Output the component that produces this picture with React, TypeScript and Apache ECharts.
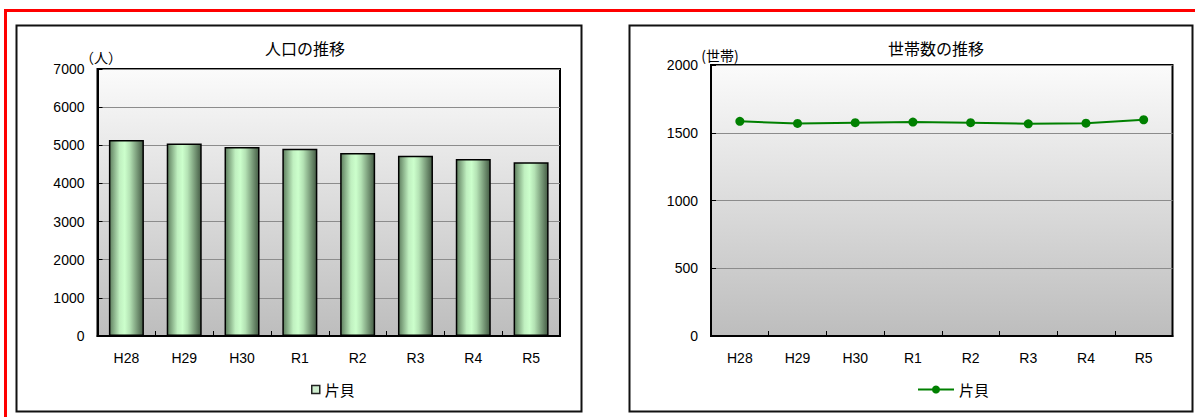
import React, { useEffect, useRef } from 'react';
import * as echarts from 'echarts';

const categories = ['H28', 'H29', 'H30', 'R1', 'R2', 'R3', 'R4', 'R5'];
const populationValues = [5140, 5044, 4956, 4912, 4800, 4726, 4640, 4552];
const householdValues = [1584, 1569, 1574, 1579, 1574, 1566, 1571, 1596];
const seriesName = '片貝';
const popTitle = '人口の推移';
const hhTitle = '世帯数の推移';
const popUnit = '（人）';
const hhUnit = '(世帯)';
const popAxis = { min: 0, max: 7000, interval: 1000 };
const hhAxis = { min: 0, max: 2000, interval: 500 };

const JP = '"Noto Sans CJK JP", "Noto Sans", sans-serif';
const NUM = '"Liberation Sans", Arial, sans-serif';

function plotBg() {
  return new echarts.graphic.LinearGradient(0, 0, 0, 1, [
    { offset: 0, color: '#fbfbfb' },
    { offset: 1, color: '#bdbdbd' },
  ]);
}

function xAxisCommon() {
  return {
    type: 'category',
    data: categories,
    boundaryGap: true,
    axisLine: { show: true, lineStyle: { color: '#000', width: 2 } },
    axisTick: { show: true, inside: true, length: 5, alignWithLabel: false, lineStyle: { color: '#000' } },
    axisLabel: { color: '#000', fontSize: 14, fontFamily: NUM, margin: 15 },
    splitLine: { show: false },
  };
}

function yAxisCommon(ax: { min: number; max: number; interval: number }) {
  return {
    type: 'value',
    min: ax.min,
    max: ax.max,
    interval: ax.interval,
    axisLine: { show: true, lineStyle: { color: '#000', width: 2 } },
    axisTick: { show: true, inside: true, length: 5, lineStyle: { color: '#000' } },
    axisLabel: { color: '#000', fontSize: 14, fontFamily: NUM, margin: 13, formatter: (v: number) => String(v) },
    splitLine: { show: true, lineStyle: { color: '#8c8c8c', width: 1 } },
  };
}

function popOption() {
  return {
    animation: false,
    grid: {
      left: 97.5, top: 69, width: 462.5, height: 267,
      show: true, backgroundColor: plotBg(), borderColor: '#000', borderWidth: 2,
    },
    xAxis: xAxisCommon(),
    yAxis: yAxisCommon(popAxis),
    legend: {
      left: 306, top: 377,
      itemWidth: 8, itemHeight: 8,
      data: [{ name: seriesName, icon: 'rect' }],
      itemStyle: { color: '#cfeecf', borderColor: '#222', borderWidth: 1.5 },
      textStyle: { fontFamily: JP, fontSize: 15, color: '#000' },
    },
    graphic: [
      { type: 'rect', shape: { x: 16.5, y: 25.5, width: 565, height: 386 }, style: { fill: '#fff', stroke: '#111', lineWidth: 2 }, z: -10 },
      { type: 'text', x: 305, y: 48, style: { text: popTitle, font: `16px ${JP}`, fill: '#000', textAlign: 'center', textVerticalAlign: 'middle' } },
      { type: 'text', x: 101, y: 57, style: { text: popUnit, font: `14px ${JP}`, fill: '#000', textAlign: 'center', textVerticalAlign: 'middle' } },
    ],
    series: [
      {
        name: seriesName,
        type: 'bar',
        data: populationValues,
        barWidth: 35,
        itemStyle: {
          color: new echarts.graphic.LinearGradient(0, 0, 1, 0, [
            { offset: 0, color: '#5f7f5f' },
            { offset: 0.3, color: '#c0f0c0' },
            { offset: 0.45, color: '#ccffcc' },
            { offset: 0.6, color: '#b4e2b4' },
            { offset: 1, color: '#455c45' },
          ]),
          borderColor: '#000',
          borderWidth: 1.5,
        },
      },
    ],
  };
}

function hhOption() {
  return {
    animation: false,
    grid: {
      left: 114, top: 65, width: 461.5, height: 271,
      show: true, backgroundColor: plotBg(), borderColor: '#000', borderWidth: 2,
    },
    xAxis: xAxisCommon(),
    yAxis: yAxisCommon(hhAxis),
    legend: {
      left: 315, top: 377,
      itemWidth: 36, itemHeight: 10,
      data: [seriesName],
      textStyle: { fontFamily: JP, fontSize: 15, color: '#000' },
    },
    graphic: [
      { type: 'rect', shape: { x: 32.5, y: 25.5, width: 563, height: 386 }, style: { fill: '#fff', stroke: '#111', lineWidth: 2 }, z: -10 },
      { type: 'text', x: 339, y: 48, style: { text: hhTitle, font: `16px ${JP}`, fill: '#000', textAlign: 'center', textVerticalAlign: 'middle' } },
      { type: 'text', x: 123, y: 55, style: { text: hhUnit, font: `14px ${JP}`, fill: '#000', textAlign: 'center', textVerticalAlign: 'middle' } },
    ],
    series: [
      {
        name: seriesName,
        type: 'line',
        data: householdValues,
        symbol: 'circle',
        symbolSize: 9,
        color: '#008000',
        lineStyle: { color: '#008000', width: 2 },
        itemStyle: { color: '#008000' },
      },
    ],
  };
}

function Chart({ makeOption, left, width }: { makeOption: () => any; left: number; width: number }) {
  const ref = useRef<HTMLDivElement>(null);
  useEffect(() => {
    if (!ref.current) return;
    const chart = echarts.init(ref.current, undefined, { renderer: 'svg' });
    chart.setOption(makeOption());
    return () => chart.dispose();
  }, []);
  return <div ref={ref} style={{ position: 'absolute', left, top: 0, width, height: 417 }} />;
}

export default function App() {
  return (
    <div style={{ position: 'absolute', left: 0, top: 0, width: 1195, height: 417, overflow: 'hidden', background: '#fff' }}>
      <div style={{ position: 'absolute', left: 4, top: 9, width: 1210, height: 430, border: '3px solid #ff0000', boxSizing: 'border-box' }} />
      <Chart makeOption={popOption} left={0} width={597} />
      <Chart makeOption={hhOption} left={597} width={598} />
    </div>
  );
}
